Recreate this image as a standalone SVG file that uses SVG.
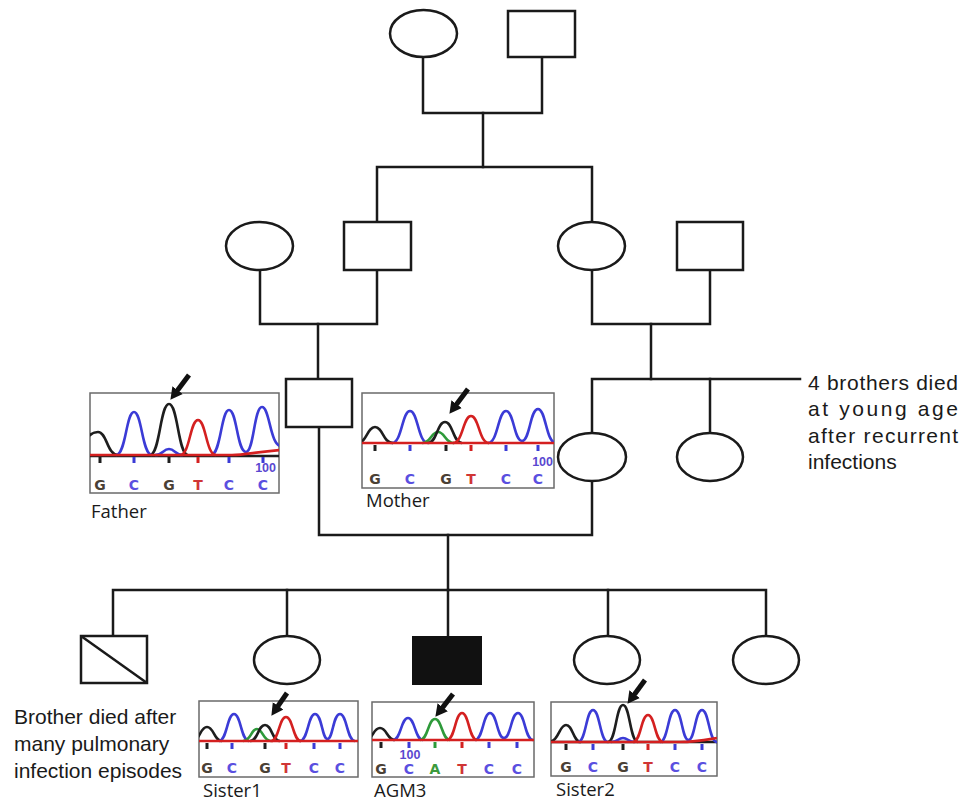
<svg xmlns="http://www.w3.org/2000/svg" width="962" height="803" viewBox="0 0 962 803">
<style>
.ln{fill:none;stroke:#1a1a1a;stroke-width:2.5;stroke-linecap:square}
.nd{fill:#fff;stroke:#1a1a1a;stroke-width:2.5}
.box{fill:#fff;stroke:#6a6a6a;stroke-width:1.5}
.tr{fill:none;stroke-width:2.6}
.k{stroke:#1e1e1e}.b{stroke:#3b3bd6}.r{stroke:#d42020}.g{stroke:#2e9a3a}
.seq{font-family:"DejaVu Sans","Liberation Sans",sans-serif;font-weight:bold;font-size:14px;text-anchor:middle}
.sG{fill:#4a4035}.sC{fill:#5a50e0}.sT{fill:#d03535}.sA{fill:#3c9a3c}
.num{font-family:"Liberation Sans",Arial,sans-serif;font-weight:bold;font-size:12.5px;fill:#5a48d0}
.lbl{font-family:"Open Sans","Liberation Sans",sans-serif;font-size:18.5px;fill:#1a1a1a}
.note{font-family:"Liberation Sans",Arial,sans-serif;font-size:21px;fill:#1a1a1a}
.arr{stroke:#111;stroke-width:5;fill:none;marker-end:url(#ah)}
</style>
<defs>
<marker id="ah" markerUnits="userSpaceOnUse" markerWidth="14" markerHeight="14" refX="1" refY="7" orient="auto">
<path d="M0,0.5 L12,7 L0,13.5 z" fill="#111"/>
</marker>
<clipPath id="cF"><rect x="90" y="393" width="189" height="100"/></clipPath>
<clipPath id="cM"><rect x="362" y="393" width="192" height="95"/></clipPath>
<clipPath id="cS1"><rect x="199" y="701" width="159" height="76"/></clipPath>
<clipPath id="cA"><rect x="372" y="702" width="162" height="75"/></clipPath>
<clipPath id="cS2"><rect x="551" y="702" width="166" height="74"/></clipPath>
</defs>
<rect width="962" height="803" fill="#fff"/>

<g id="connectors">
<path class="ln" d="M423,57 V113 H542 V57"/>
<path class="ln" d="M483,113 V167"/>
<path class="ln" d="M377,222 V167 H592 V222"/>
<path class="ln" d="M260,270 V324 H377 V270"/>
<path class="ln" d="M318,324 V379"/>
<path class="ln" d="M592,270 V324 H710 V270"/>
<path class="ln" d="M651,324 V379"/>
<path class="ln" d="M592,433 V379 H800"/>
<path class="ln" d="M710,379 V433"/>
<path class="ln" d="M319,427 V535 H592 V481"/>
<path class="ln" d="M448,535 V590"/>
<path class="ln" d="M113,636 V590 H766 V636"/>
<path class="ln" d="M287,590 V636"/>
<path class="ln" d="M448,590 V637"/>
<path class="ln" d="M608,590 V636"/>
</g>

<g id="gen1-mother"><ellipse class="nd" cx="423.5" cy="33.5" rx="33.5" ry="23.5"/></g>
<g id="gen1-father"><rect class="nd" x="508" y="11" width="67" height="46"/></g>
<g id="gen2-left-mother"><ellipse class="nd" cx="259.5" cy="246" rx="33.5" ry="24"/></g>
<g id="gen2-left-father"><rect class="nd" x="344" y="222" width="67" height="48"/></g>
<g id="gen2-right-mother"><ellipse class="nd" cx="591.5" cy="246" rx="33.5" ry="24"/></g>
<g id="gen2-right-father"><rect class="nd" x="677" y="222" width="66" height="48"/></g>
<g id="father"><rect class="nd" x="286" y="379" width="66" height="48"/></g>
<g id="mother"><ellipse class="nd" cx="592" cy="457" rx="34" ry="24"/></g>
<g id="aunt"><ellipse class="nd" cx="710" cy="457" rx="33" ry="24"/></g>
<g id="brother"><rect class="nd" x="81" y="636" width="66" height="47"/><line x1="81" y1="636" x2="147" y2="683" stroke="#1a1a1a" stroke-width="2.5"/></g>
<g id="sister1"><ellipse class="nd" cx="287" cy="660" rx="33" ry="24"/></g>
<g id="agm3"><rect x="413" y="637" width="68" height="47" fill="#111" stroke="#111" stroke-width="2"/></g>
<g id="sister2"><ellipse class="nd" cx="607" cy="660" rx="33" ry="24"/></g>
<g id="sister3"><ellipse class="nd" cx="766" cy="660" rx="33" ry="24"/></g>

<g id="chrom-father">
<rect class="box" x="90" y="393" width="189" height="100"/>
<g clip-path="url(#cF)">
<path class="tr k" d="M90,456 H279"/>
<path class="tr k" d="M70,455 C81,455 84,432 98,432 C107,432 107,455 118,455"/>
<path class="tr k" d="M150,455 C160,455 160,404 169,404 C178,404 178,455 188,455"/>
<path class="tr b" d="M116,455 C126,455 126,412 134,412 C142,412 142,455 152,455"/>
<path class="tr b" d="M155,455 C163,455 163,449 169,449 C175,449 175,455 183,455"/>
<path class="tr b" d="M211,455 C221,455 221,410 229,410 C237,410 237,452 246,452 C254,452 254,407 262,407 C270,407 270,448 282,446"/>
<path class="tr r" d="M180,455 C190,455 190,420 198,420 C206,420 206,455 216,455"/>
<path class="tr r" d="M90,455 H232 C245,455 255,452 280,450"/>
</g>
<rect x="98.5" y="457" width="3" height="6" fill="#1e1e1e"/>
<rect x="132.5" y="457" width="3" height="6" fill="#3b3bd6"/>
<rect x="167.5" y="457" width="3" height="6" fill="#1e1e1e"/>
<rect x="196.5" y="457" width="3" height="6" fill="#d42020"/>
<rect x="227.5" y="457" width="3" height="6" fill="#3b3bd6"/>
<rect x="261.5" y="457" width="3" height="6" fill="#3b3bd6"/>
<text class="num" x="276" y="472" text-anchor="end">100</text>
<text class="seq sG" x="100" y="490">G</text>
<text class="seq sC" x="134" y="490">C</text>
<text class="seq sG" x="169" y="490">G</text>
<text class="seq sT" x="198" y="490">T</text>
<text class="seq sC" x="229" y="490">C</text>
<text class="seq sC" x="263" y="490">C</text>
<line class="arr" x1="189" y1="375" x2="177" y2="391"/>
<text class="lbl" x="91" y="518">Father</text>
</g>

<g id="chrom-mother">
<rect class="box" x="362" y="393" width="192" height="95"/>
<g clip-path="url(#cM)">
<path class="tr k" d="M357,443 C367,443 367,427 375,427 C383,427 383,443 393,443"/>
<path class="tr b" d="M392,443 C402,443 402,411 410,411 C418,411 418,443 428,443"/>
<path class="tr g" d="M422,443 C431,443 431,432 438,432 C445,432 445,443 454,443"/>
<path class="tr k" d="M428,443 C437,443 437,422 445,422 C453,422 453,443 462,443"/>
<path class="tr b" d="M488,443 C498,443 498,411 506,411 C514,411 514,441 522,441 C530,441 530,409 538,409 C546,409 546,443 556,443"/>
<path class="tr r" d="M453,443 C463,443 463,416 471,416 C479,416 479,443 489,443"/>
<path class="tr r" d="M362,443 H554"/>
</g>
<rect x="373.5" y="445" width="3" height="6" fill="#1e1e1e"/>
<rect x="408.5" y="445" width="3" height="6" fill="#3b3bd6"/>
<rect x="444.5" y="445" width="3" height="6" fill="#1e1e1e"/>
<rect x="469.5" y="445" width="3" height="6" fill="#d42020"/>
<rect x="504.5" y="445" width="3" height="6" fill="#3b3bd6"/>
<rect x="536.5" y="445" width="3" height="6" fill="#3b3bd6"/>
<text class="num" x="553" y="466" text-anchor="end">100</text>
<text class="seq sG" x="375" y="484">G</text>
<text class="seq sC" x="410" y="484">C</text>
<text class="seq sG" x="446" y="484">G</text>
<text class="seq sT" x="471" y="484">T</text>
<text class="seq sC" x="506" y="484">C</text>
<text class="seq sC" x="538" y="484">C</text>
<line class="arr" x1="468" y1="389" x2="456" y2="405"/>
<text class="lbl" x="366" y="507">Mother</text>
</g>

<g id="chrom-sister1">
<rect class="box" x="199" y="701" width="159" height="76"/>
<g clip-path="url(#cS1)">
<path class="tr k" d="M192,741 C200,741 200,727 207,727 C214,727 214,741 222,741"/>
<path class="tr b" d="M219,741 C227,741 227,714 234,714 C241,714 241,741 249,741"/>
<path class="tr g" d="M243,741 C251,741 251,729 257,729 C263,729 263,741 271,741"/>
<path class="tr k" d="M250,741 C258,741 258,725 265,725 C272,725 272,741 280,741"/>
<path class="tr b" d="M300,741 C308,741 308,714 315,714 C322,714 322,739 327.5,739 C333,739 333,714 340,714 C347,714 347,741 355,741"/>
<path class="tr r" d="M271,741 C279,741 279,717 286,717 C293,717 293,741 301,741"/>
<path class="tr r" d="M199,741 H358"/>
</g>
<rect x="205.5" y="743" width="3" height="6" fill="#1e1e1e"/>
<rect x="230.5" y="743" width="3" height="6" fill="#3b3bd6"/>
<rect x="263.5" y="743" width="3" height="6" fill="#1e1e1e"/>
<rect x="284.5" y="743" width="3" height="6" fill="#d42020"/>
<rect x="312.5" y="743" width="3" height="6" fill="#3b3bd6"/>
<rect x="338.5" y="743" width="3" height="6" fill="#3b3bd6"/>
<text class="seq sG" x="207" y="773">G</text>
<text class="seq sC" x="232" y="773">C</text>
<text class="seq sG" x="265" y="773">G</text>
<text class="seq sT" x="286" y="773">T</text>
<text class="seq sC" x="314" y="773">C</text>
<text class="seq sC" x="340" y="773">C</text>
<line class="arr" x1="287" y1="693" x2="277.6" y2="706.7"/>
<text class="lbl" x="203" y="797">Sister1</text>
</g>

<g id="chrom-agm3">
<rect class="box" x="372" y="702" width="162" height="75"/>
<g clip-path="url(#cA)">
<path class="tr k" d="M365,740 C373,740 373,728 380,728 C387,728 387,740 395,740"/>
<path class="tr b" d="M393,740 C401,740 401,718 408,718 C415,718 415,740 423,740"/>
<path class="tr g" d="M420,740 C428,740 428,719 435,719 C442,719 442,740 450,740"/>
<path class="tr b" d="M475,740 C483,740 483,713 490,713 C497,713 497,738 504,738 C511,738 511,713 518,713 C525,713 525,740 533,740"/>
<path class="tr r" d="M447,740 C455,740 455,713 462,713 C469,713 469,740 477,740"/>
<path class="tr r" d="M372,740 H534"/>
</g>
<rect x="379.5" y="742" width="3" height="6" fill="#1e1e1e"/>
<rect x="407.5" y="742" width="3" height="6" fill="#3b3bd6"/>
<rect x="433.5" y="742" width="3" height="6" fill="#2e9a3a"/>
<rect x="460.5" y="742" width="3" height="6" fill="#d42020"/>
<rect x="487.5" y="742" width="3" height="6" fill="#3b3bd6"/>
<rect x="515.5" y="742" width="3" height="6" fill="#3b3bd6"/>
<text class="num" x="410" y="759" text-anchor="middle">100</text>
<text class="seq sG" x="381" y="774">G</text>
<text class="seq sC" x="409" y="774">C</text>
<text class="seq sA" x="435" y="774">A</text>
<text class="seq sT" x="462" y="774">T</text>
<text class="seq sC" x="489" y="774">C</text>
<text class="seq sC" x="517" y="774">C</text>
<line class="arr" x1="453" y1="694" x2="442.1" y2="708.1"/>
<text class="lbl" x="374" y="797">AGM3</text>
</g>

<g id="chrom-sister2">
<rect class="box" x="551" y="702" width="166" height="74"/>
<g clip-path="url(#cS2)">
<path class="tr k" d="M551,742 H717"/>
<path class="tr k" d="M548,742 C559,742 559,725 566,725 C573,725 573,742 581,742"/>
<path class="tr b" d="M578,742 C586,742 586,710 593,710 C600,710 600,742 608,742"/>
<path class="tr k" d="M608,742 C616,742 616,705 623,705 C630,705 630,742 638,742"/>
<path class="tr b" d="M611,742 C618,742 618,738 623,738 C628,738 628,742 635,742"/>
<path class="tr b" d="M660,742 C668,742 668,710 675,710 C682,710 682,740 688.5,740 C695,740 695,710 702,710 C709,710 709,742 717,742"/>
<path class="tr r" d="M633,742 C641,742 641,715 648,715 C655,715 655,742 663,742"/>
<path class="tr r" d="M551,742 H680 C695,742 705,740 717,738"/>
</g>
<rect x="564.5" y="744" width="3" height="6" fill="#1e1e1e"/>
<rect x="591.5" y="744" width="3" height="6" fill="#3b3bd6"/>
<rect x="621.5" y="744" width="3" height="6" fill="#1e1e1e"/>
<rect x="646.5" y="744" width="3" height="6" fill="#d42020"/>
<rect x="673.5" y="744" width="3" height="6" fill="#3b3bd6"/>
<rect x="700.5" y="744" width="3" height="6" fill="#3b3bd6"/>
<text class="seq sG" x="566" y="772">G</text>
<text class="seq sC" x="593" y="772">C</text>
<text class="seq sG" x="623" y="772">G</text>
<text class="seq sT" x="648" y="772">T</text>
<text class="seq sC" x="675" y="772">C</text>
<text class="seq sC" x="702" y="772">C</text>
<line class="arr" x1="645" y1="680" x2="634" y2="695"/>
<text class="lbl" x="556" y="796">Sister2</text>
</g>

<g id="note-brother">
<text class="note" x="14" y="724">Brother died after</text>
<text class="note" x="14" y="751">many pulmonary</text>
<text class="note" x="14" y="778">infection episodes</text>
</g>
<g id="note-brothers">
<text class="note" x="808" y="390" textLength="150" lengthAdjust="spacing">4 brothers died</text>
<text class="note" x="808" y="416" textLength="150" lengthAdjust="spacing">at young age</text>
<text class="note" x="808" y="443" textLength="150" lengthAdjust="spacing">after recurrent</text>
<text class="note" x="808" y="469">infections</text>
</g>
</svg>
